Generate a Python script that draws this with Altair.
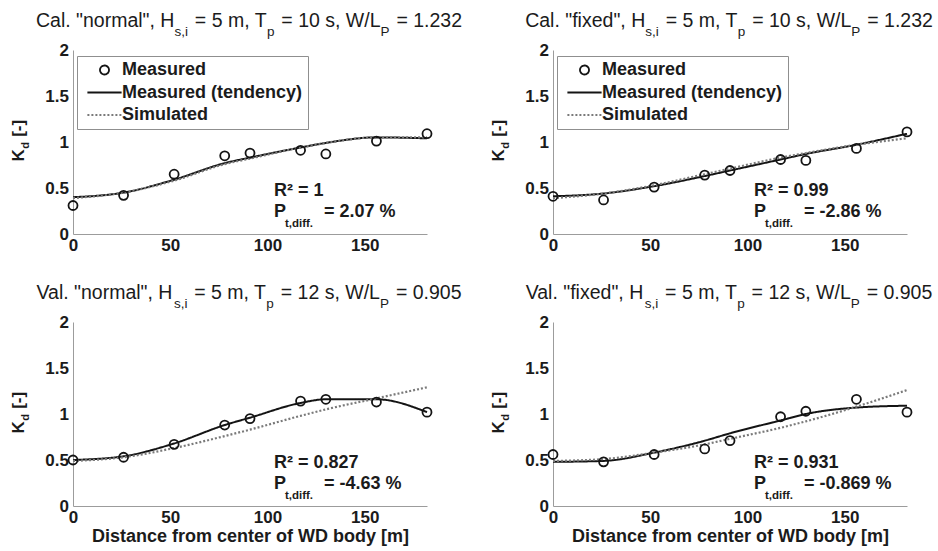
import altair as alt
import pandas as pd

# ---------------- data ----------------
distance_m = [0, 26, 52, 78, 91, 117, 130, 156, 182]
series_labels = ["Measured", "Measured (tendency)", "Simulated"]
x_ticks = [0, 50, 100, 150]
y_ticks = [0, 0.5, 1, 1.5, 2]

panel_phase = ["Cal.", "Cal.", "Val.", "Val."]
panel_mode = ["normal", "fixed", "normal", "fixed"]
panel_tp = ["10", "10", "12", "12"]
panel_wlp = ["1.232", "1.232", "0.905", "0.905"]

kd_measured = [
    [0.31, 0.42, 0.65, 0.85, 0.88, 0.91, 0.87, 1.01, 1.09],
    [0.41, 0.37, 0.51, 0.64, 0.69, 0.81, 0.80, 0.93, 1.11],
    [0.50, 0.53, 0.67, 0.88, 0.95, 1.14, 1.16, 1.13, 1.02],
    [0.56, 0.48, 0.56, 0.62, 0.71, 0.97, 1.03, 1.16, 1.02],
]
kd_tendency = [
    [0.40, 0.45, 0.59, 0.77, 0.83, 0.94, 0.99, 1.05, 1.04],
    [0.41, 0.44, 0.52, 0.63, 0.69, 0.81, 0.87, 0.97, 1.09],
    [0.50, 0.54, 0.68, 0.88, 0.96, 1.12, 1.16, 1.16, 1.02],
    [0.48, 0.49, 0.58, 0.71, 0.79, 0.93, 1.00, 1.07, 1.09],
]
kd_simulated = [
    [0.39, 0.45, 0.58, 0.76, 0.82, 0.94, 0.99, 1.05, 1.05],
    [0.39, 0.44, 0.53, 0.65, 0.71, 0.83, 0.88, 0.97, 1.04],
    [0.49, 0.53, 0.63, 0.76, 0.83, 0.98, 1.05, 1.17, 1.29],
    [0.49, 0.51, 0.58, 0.67, 0.73, 0.85, 0.92, 1.08, 1.26],
]
r_squared = ["1", "0.99", "0.827", "0.931"]
p_diff = ["2.07 %", "-2.86 %", "-4.63 %", "-0.869 %"]

# ---------------- styling / layout ----------------
FONT = "Liberation Sans"
TXT = "#1b1b1b"
PW, PH = 354, 184

REG = {' ': 278, '"': 355, '%': 889, ',': 278, '-': 333, '.': 278, '/': 278, '=': 584,
       '[': 278, ']': 278, 'C': 722, 'H': 722, 'L': 556, 'P': 667, 'T': 611, 'V': 667,
       'W': 944, 'a': 556, 'd': 556, 'e': 556, 'f': 278, 'i': 222, 'l': 222, 'm': 833,
       'n': 556, 'o': 556, 'p': 556, 'r': 333, 's': 500, 't': 278, 'x': 500}
BOLD = {' ': 278, '"': 474, '%': 889, ',': 278, '-': 333, '.': 278, '/': 278, '=': 584,
        '[': 333, ']': 333, 'K': 722, 'P': 667, 'R': 722, 'd': 611, 'f': 333, 'i': 278, 't': 333}


def tw(s, bold, size):
    tbl = BOLD if bold else REG
    return sum(tbl.get(c, 556) for c in s) * size / 1000.0


one = pd.DataFrame({"k": [0]})


def ptext(txt, x, y, size, bold=False, angle=0):
    kw = dict(text=txt, align="left", baseline="alphabetic", font=FONT,
              fontSize=size, fontWeight=("bold" if bold else "normal"), color=TXT)
    if angle:
        kw["angle"] = angle
    return alt.Chart(one).mark_text(**kw).encode(x=alt.value(x), y=alt.value(y))


def title_layers(i):
    TF, SF, BASE, SUBDROP = 19.5, 13.5, -23, 9
    segs = [(f'{panel_phase[i]} "{panel_mode[i]}", H', False), ("s,i", True),
            (" = 5 m, T", False), ("p", True),
            (f" = {panel_tp[i]} s, W/L", False), ("P", True),
            (f" = {panel_wlp[i]}", False)]
    placed, cur = [], 0.0
    for s, sub in segs:
        if sub:
            placed.append((s, cur, SF, BASE + SUBDROP))
            cur += tw(s, False, SF) + 1.5
        else:
            stripped = s.lstrip(" ")
            cur += tw(s[: len(s) - len(stripped)], False, TF)
            placed.append((stripped, cur, TF, BASE))
            cur += tw(stripped, False, TF)
    start = PW / 2 - cur / 2 - 1
    return [ptext(s, start + xo, y, sz) for s, xo, sz, y in placed]


def ytitle_layers():
    bx, cy = -49, 90.7
    kw_, dw_ = tw("K", True, 17), tw("d", True, 11)
    sp, rw_ = tw(" ", True, 17), tw("[-]", True, 17)
    total = kw_ + 0.5 + dw_ + 0.5 + sp + rw_
    y0 = cy + total / 2
    return [
        ptext("K", bx, y0, 17, True, 270),
        ptext("d", bx + 5, y0 - kw_ - 0.5, 11, True, 270),
        ptext("[-]", bx, y0 - kw_ - 0.5 - dw_ - 0.5 - sp, 17, True, 270),
    ]


def annot_layers(i):
    ax, ry, py = 103.3, 0.415, 0.19

    def dtext(txt, size, yv, dx=0, dy=0):
        return alt.Chart(one).mark_text(
            text=txt, align="left", baseline="alphabetic", font=FONT, fontSize=size,
            fontWeight="bold", color=TXT, dx=dx, dy=dy
        ).encode(x=alt.datum(ax), y=alt.datum(yv))
    return [
        dtext(f"R\u00b2 = {r_squared[i]}", 18, ry),
        dtext("P", 18, py),
        dtext("t,diff.", 11.5, py, dx=11, dy=10),
        dtext(f"= {p_diff[i]}", 18, py, dx=50),
    ]


legend_spec = alt.Legend(
    title=None, orient="none", legendX=4, legendY=6, direction="vertical",
    fillColor="white", strokeColor="#8f8f8f", padding=5,
    labelFont=FONT, labelFontSize=18, labelFontWeight="bold", labelColor=TXT,
    labelLimit=400, symbolSize=81, symbolStrokeWidth=1.8, symbolOffset=13.5,
    labelOffset=8.5, rowPadding=4.5,
)

color_scale = alt.Scale(domain=series_labels, range=["#141414", "#141414", "#7a7a7a"])
shape_scale = alt.Scale(domain=series_labels, range=["circle", "M-3.8,0L3.8,0", "M-3.8,0L3.8,0"])
dash_scale = alt.Scale(domain=series_labels, range=[[1, 0], [1, 0], [2, 2]])
width_scale = alt.Scale(domain=series_labels, range=[1.8, 2.2, 1.6])


def make_panel(i):
    top = i < 2
    df = pd.DataFrame({
        "distance": distance_m * 3,
        "kd": kd_measured[i] + kd_tendency[i] + kd_simulated[i],
        "series": [s for s in series_labels for _ in distance_m],
    })
    leg = legend_spec if top else None
    if top:
        xaxis = alt.Axis(values=x_ticks, title=None, labelFlush=False)
    else:
        xaxis = alt.Axis(values=x_ticks, title="Distance from center of WD body [m]",
                         titleY=35, titleBaseline="alphabetic", labelFlush=False)
    x_enc = alt.X("distance:Q", scale=alt.Scale(domain=[0, 182], nice=False, zero=False), axis=xaxis)
    y_enc = alt.Y("kd:Q", scale=alt.Scale(domain=[0, 2], nice=False),
                  axis=alt.Axis(values=y_ticks, format="~g", title=None, labelPadding=4.5))
    color_enc = alt.Color("series:N", scale=color_scale, legend=leg)
    base = alt.Chart(df)
    lines = base.transform_filter(alt.datum.series != "Measured").mark_line(
        interpolate="monotone"
    ).encode(
        x=x_enc, y=y_enc, color=color_enc,
        strokeDash=alt.StrokeDash("series:N", scale=dash_scale, legend=leg),
        strokeWidth=alt.StrokeWidth("series:N", scale=width_scale, legend=None),
    )
    points = base.transform_filter(alt.datum.series == "Measured").mark_point(
        filled=False, size=81, strokeWidth=1.8, opacity=1
    ).encode(
        x=x_enc, y=y_enc, color=color_enc,
        shape=alt.Shape("series:N", scale=shape_scale, legend=leg),
    )
    layers = [lines, points] + annot_layers(i) + title_layers(i) + ytitle_layers()
    return alt.layer(*layers).properties(width=PW, height=PH)


chart = alt.concat(
    *[make_panel(i) for i in range(4)],
    columns=2, spacing={"row": 88, "column": 126}, bounds="flush",
).resolve_scale(
    color="independent", shape="independent", strokeDash="independent", strokeWidth="independent"
).properties(
    padding={"left": 10, "top": 11, "right": 4, "bottom": 4}
).configure_view(
    stroke=None
).configure_axis(
    domainColor="#9c9c9c", domainWidth=1, grid=False, ticks=False, tickSize=0,
    labelFont=FONT, labelFontSize=17, labelFontWeight="bold", labelColor=TXT, labelPadding=3,
    titleFont=FONT, titleFontSize=18, titleFontWeight="bold", titleColor=TXT,
)

chart.save("out.html", embed_options={"renderer": "svg", "actions": False})
